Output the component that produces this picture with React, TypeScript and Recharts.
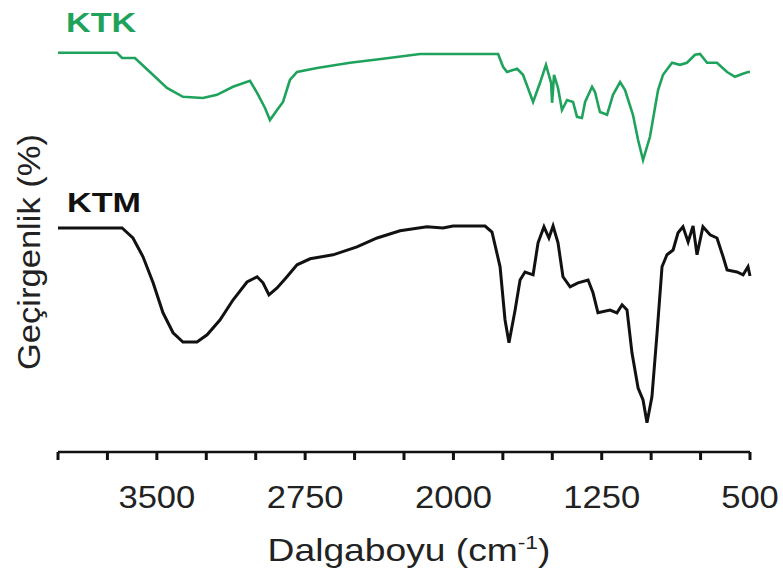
import { Label, Line, LineChart, XAxis, YAxis } from "recharts"

// wavenumber (cm-1) and transmittance
const ktkWave = [
  4000, 3702, 3676, 3611, 3535, 3449, 3368, 3267, 3196, 3115, 3029, 2993, 2953, 2928, 2892, 2862,
  2827, 2791, 2690, 2523, 2356, 2169, 2002, 1774, 1749, 1729, 1678, 1648, 1597, 1562, 1532, 1506,
  1501, 1491, 1471, 1451, 1425, 1395, 1375, 1350, 1334, 1299, 1284, 1259, 1223, 1193, 1157, 1132,
  1092, 1066, 1041, 1006, 965, 940, 894, 854, 819, 778, 753, 717, 667, 616, 576, 540, 510, 500,
]
const ktkValue = [
  99.8, 99.8, 98.5, 98.5, 95, 91, 88.8, 88.5, 89.3, 91.3, 92.8, 89.8, 86, 83, 85.5, 87.5,
  93, 95, 96, 97.3, 98.3, 99.5, 99.5, 99.5, 96.3, 95, 95.8, 94.3, 87.5, 92.3, 96.8, 92.3,
  87.3, 94.3, 91, 85.5, 88, 87.5, 83.8, 83.5, 87.5, 91.3, 90, 85, 84.3, 89.3, 92.5, 90.5,
  84.3, 78, 73, 78.8, 90.5, 94.3, 97.3, 96.8, 97.3, 99.3, 99.5, 97.3, 97.3, 95, 93.8, 94.5, 95, 95,
]

const ktmWave = [
  4000, 3676, 3621, 3570, 3519, 3469, 3418, 3368, 3297, 3246, 3181, 3115, 3044, 2993, 2963, 2933,
  2892, 2842, 2791, 2725, 2609, 2488, 2386, 2270, 2134, 2053, 2002, 1840, 1805, 1764, 1739, 1719,
  1688, 1663, 1638, 1597, 1572, 1542, 1517, 1496, 1471, 1446, 1410, 1370, 1319, 1294, 1269, 1208,
  1173, 1147, 1122, 1097, 1066, 1041, 1021, 996, 970, 945, 920, 889, 864, 839, 813, 788, 768, 738,
  702, 667, 636, 616, 566, 535, 510, 500,
]
const ktmValue = [
  56, 56, 53.5, 48.8, 42.3, 34.8, 29.8, 27.5, 27.5, 29.3, 33, 38, 42.5, 43.8, 42.3, 39.3,
  41, 43.8, 46.8, 48.3, 49.3, 51.3, 53.5, 55.3, 56.3, 56, 56.5, 56.5, 55, 46.3, 33, 27.3,
  35.5, 43, 45, 44.3, 52.3, 56.3, 53.5, 56.5, 52.3, 43.8, 41.3, 42.3, 43, 39.8, 34.8, 35.5,
  34.8, 36.8, 35.5, 24.8, 16, 13, 7.3, 13.8, 29.8, 46.3, 49.3, 50.5, 54.8, 56.3, 52.5, 56.5, 49.3, 56.3,
  54.3, 53.5, 48.8, 45.5, 45, 44.3, 46.3, 44,
]

const xTicks = [4000, 3750, 3500, 3250, 3000, 2750, 2500, 2250, 2000, 1750, 1500, 1250, 1000, 750, 500]
const xLabels = [3500, 2750, 2000, 1250, 500]

const ktk = ktkWave.map((w, i) => ({ w, t: ktkValue[i] }))
const ktm = ktmWave.map((w, i) => ({ w, t: ktmValue[i] }))

const green = "#1fa35c"
const font = "'Liberation Sans', Arial, sans-serif"

type Box = { x: number; y: number; width: number; height: number }

function XTitle({ viewBox }: { viewBox?: Box }) {
  if (!viewBox) return null
  const cx = viewBox.x + viewBox.width / 2 + 5
  const cy = viewBox.y + viewBox.height - 13
  return (
    <g transform={`translate(${cx},${cy}) scale(1.2,1)`}>
      <text x={0} y={0} textAnchor="middle" fontFamily={font} fontSize={31} fill="#222">
        Dalgaboyu (cm
        <tspan fontSize={19} dy={-12}>-1</tspan>
        <tspan dy={12}>)</tspan>
      </text>
    </g>
  )
}

function YTitle({ viewBox }: { viewBox?: Box }) {
  if (!viewBox) return null
  const cx = viewBox.x + viewBox.width / 2 + 11
  const cy = viewBox.y + viewBox.height / 2 + 6
  return (
    <g transform={`translate(${cx},${cy}) rotate(-90) scale(1.08,1)`}>
      <text x={0} y={0} textAnchor="middle" fontFamily={font} fontSize={32} fill="#222">
        Geçirgenlik (%)
      </text>
    </g>
  )
}

function XTick({ x, y, payload }: { x?: number; y?: number; payload?: { value: number } }) {
  if (!payload || !xLabels.includes(payload.value)) return null
  return (
    <g transform={`translate(${x},${y}) scale(1.08,1)`}>
      <text x={0} y={0} dy="0.71em" textAnchor="middle" fontFamily={font} fontSize={32} fill="#222">
        {payload.value}
      </text>
    </g>
  )
}

export default function App() {
  return (
    <div style={{ position: "absolute", left: 0, top: 0, background: "#fff" }}>
      <LineChart width={783} height={574} margin={{ top: 40, right: 33, bottom: 0, left: 0 }}>
        <XAxis
          type="number"
          dataKey="w"
          domain={[500, 4000]}
          reversed
          ticks={xTicks}
          interval={0}
          height={122}
          tickSize={8}
          tickMargin={25}
          axisLine={{ stroke: "#111", strokeWidth: 2.5 }}
          tickLine={{ stroke: "#111", strokeWidth: 3 }}
          tick={<XTick />}
        >
          <Label content={<XTitle />} />
        </XAxis>
        <YAxis
          type="number"
          domain={[0, 103]}
          width={58}
          tick={false}
          axisLine={false}
          tickLine={false}
        >
          <Label content={<YTitle />} />
        </YAxis>
        <Line
          data={ktk}
          dataKey="t"
          type="linear"
          stroke={green}
          strokeWidth={2.6}
          dot={false}
          isAnimationActive={false}
        />
        <Line
          data={ktm}
          dataKey="t"
          type="linear"
          stroke="#111"
          strokeWidth={3}
          dot={false}
          isAnimationActive={false}
        />
        <g transform="translate(66,32) scale(1.22,1)">
          <text x={0} y={0} fontFamily={font} fontSize={28} fontWeight="bold" fill={green}>
            KTK
          </text>
        </g>
        <g transform="translate(67,212) scale(1.22,1)">
          <text x={0} y={0} fontFamily={font} fontSize={28} fontWeight="bold" fill="#111">
            KTM
          </text>
        </g>
      </LineChart>
    </div>
  )
}
